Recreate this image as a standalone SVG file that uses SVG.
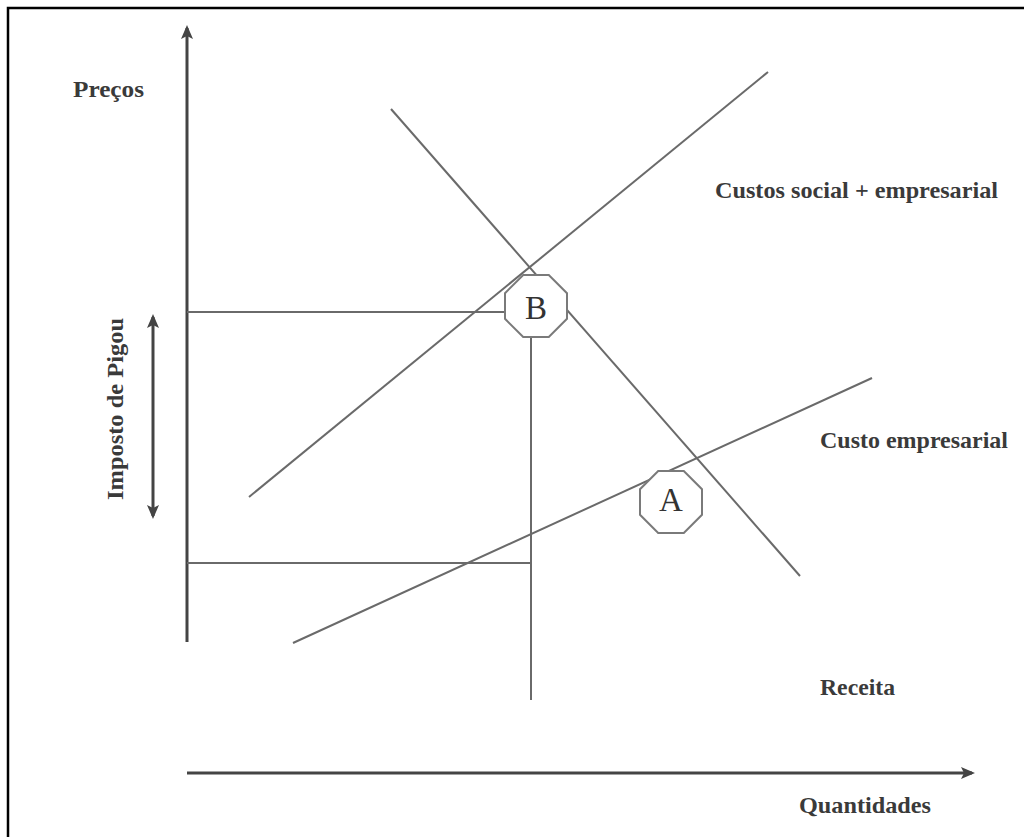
<svg xmlns="http://www.w3.org/2000/svg" width="1024" height="837" viewBox="0 0 1024 837">
<style>
.lbl{font-family:"Liberation Serif","Times New Roman",serif;font-weight:bold;font-size:24px;fill:#3a3a3a}
.let{font-family:"Liberation Serif","Times New Roman",serif;font-size:33px;fill:#333;text-anchor:middle}
.ax{stroke:#444;stroke-width:3;fill:none}
.ln{stroke:#6a6a6a;stroke-width:2;fill:none}
.oct{fill:#fff;stroke:#7a7a7a;stroke-width:2}
</style>
<defs>
<marker id="ah" viewBox="0 0 14 12" refX="11" refY="6" markerWidth="14" markerHeight="12" markerUnits="userSpaceOnUse" orient="auto-start-reverse">
<path d="M0,0 L14,6 L0,12 L3,6 z" fill="#444"/>
</marker>
</defs>
<rect x="8" y="8" width="1100" height="900" fill="#fff" stroke="#000" stroke-width="2.5"/>
<g id="connectors">
<line id="y-axis" class="ax" x1="187" y1="642" x2="187" y2="28" marker-end="url(#ah)"/>
<line id="x-axis" class="ax" x1="187" y1="773" x2="972" y2="773" marker-end="url(#ah)"/>
<line id="pigou-arrow" class="ax" x1="153" y1="317" x2="153" y2="516" marker-start="url(#ah)" marker-end="url(#ah)"/>
<line id="demand" class="ln" x1="391" y1="109" x2="800" y2="576"/>
<line id="social-cost" class="ln" x1="249" y1="497" x2="768" y2="72"/>
<line id="business-cost" class="ln" x1="293" y1="643" x2="872" y2="378"/>
<line id="price-high" class="ln" x1="187" y1="312" x2="510" y2="312"/>
<line id="price-low" class="ln" x1="187" y1="563" x2="531" y2="563"/>
<line id="qty-line" class="ln" x1="531" y1="330" x2="531" y2="700"/>
</g>
<g id="node-B">
<polygon class="oct" points="523.2,275 548.8,275 567,293.2 567,318.8 548.8,337 523.2,337 505,318.8 505,293.2"/>
<text class="let" x="536" y="319">B</text>
</g>
<g id="node-A">
<polygon class="oct" points="658.2,471 683.8,471 702,489.2 702,514.8 683.8,533 658.2,533 640,514.8 640,489.2"/>
<text class="let" x="671" y="511">A</text>
</g>
<g id="labels">
<text class="lbl" x="73" y="97" textLength="71" lengthAdjust="spacingAndGlyphs">Preços</text>
<text class="lbl" x="715" y="198" textLength="283" lengthAdjust="spacingAndGlyphs">Custos social + empresarial</text>
<text class="lbl" x="820" y="448" textLength="188" lengthAdjust="spacingAndGlyphs">Custo empresarial</text>
<text class="lbl" x="820" y="695" textLength="75" lengthAdjust="spacingAndGlyphs">Receita</text>
<text class="lbl" x="799" y="813" textLength="132" lengthAdjust="spacingAndGlyphs">Quantidades</text>
<text class="lbl" transform="translate(123,500) rotate(-90)" textLength="182" lengthAdjust="spacingAndGlyphs">Imposto de Pigou</text>
</g>
</svg>
